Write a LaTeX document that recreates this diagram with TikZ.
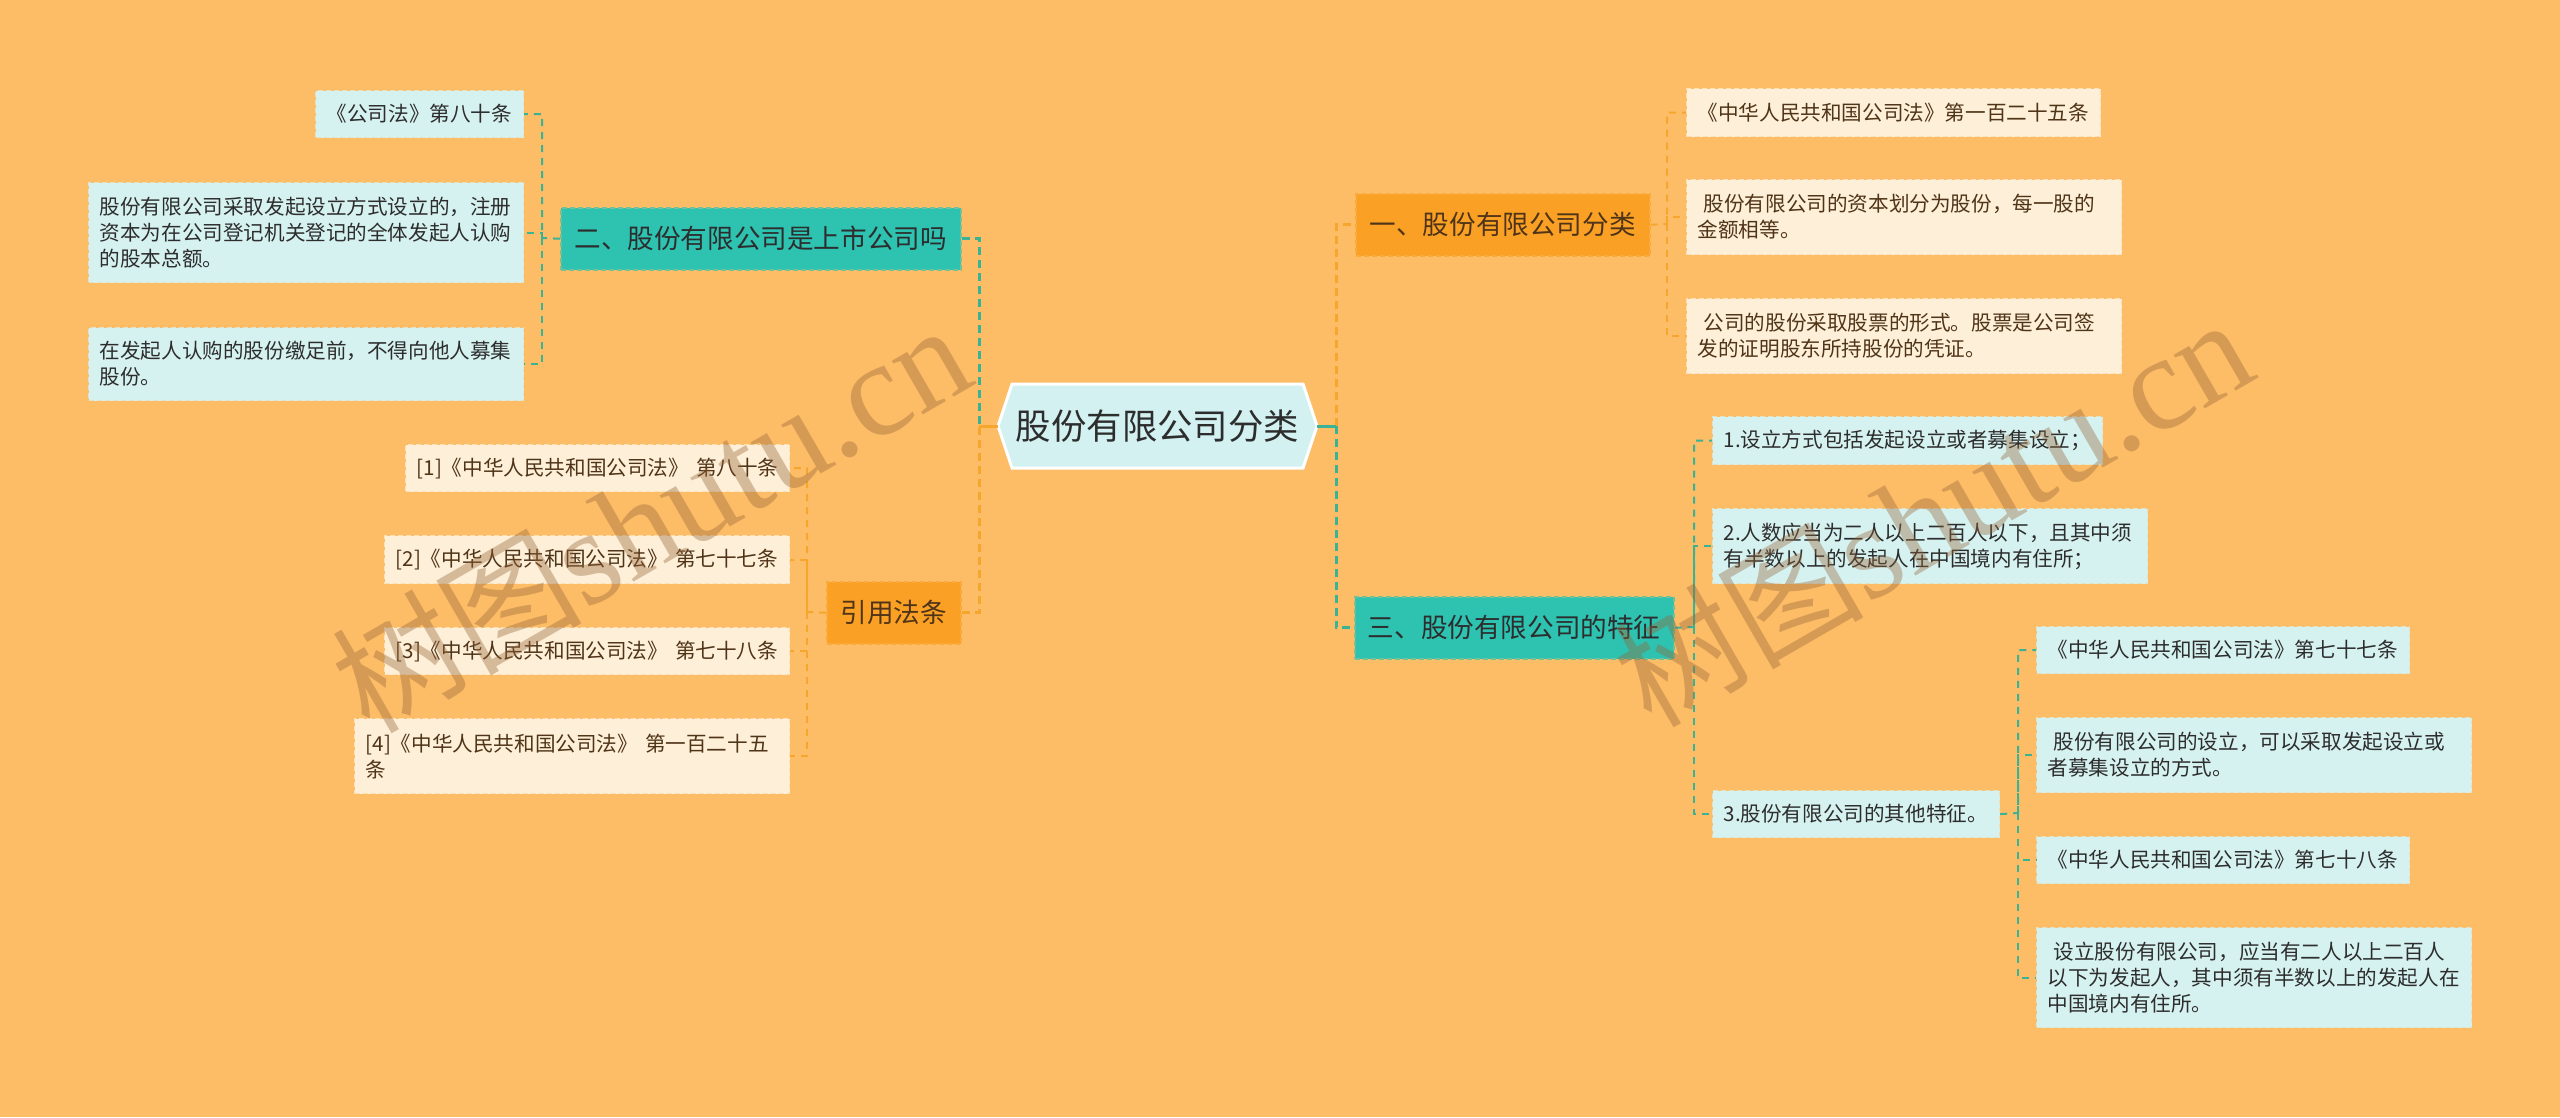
\documentclass[tikz,border=0pt]{standalone}
\usepackage{fontspec}
\newfontfamily\cjk{Noto Sans CJK SC}
\newfontfamily\wmserif{Liberation Serif}
\definecolor{bgc}{RGB}{253,188,102}
\definecolor{tealbox}{RGB}{46,194,177}
\definecolor{orgbox}{RGB}{250,161,37}
\definecolor{cyanleaf}{RGB}{214,242,240}
\definecolor{creamleaf}{RGB}{253,239,216}
\definecolor{hexfill}{RGB}{211,241,241}
\definecolor{tline}{RGB}{58,178,150}
\definecolor{oline}{RGB}{246,166,45}
\definecolor{txtdark}{RGB}{45,45,45}
\definecolor{txtbrown}{RGB}{80,52,24}
\definecolor{wmc}{RGB}{150,100,55}
\begin{document}
\begin{tikzpicture}[x=1pt,y=-1pt,
 leaf/.style={anchor=north west, inner xsep=11pt, inner ysep=0pt, align=left,
   font=\cjk\fontsize{20.6}{26}\selectfont, dashed, dash pattern=on 5pt off 3pt, line width=1.2pt},
 cyanl/.style={leaf, fill=cyanleaf, draw=cyanleaf!70!bgc, text=txtdark},
 creaml/.style={leaf, fill=creamleaf, draw=creamleaf!70!bgc, text=txtbrown},
 branch/.style={anchor=north west, inner xsep=0pt, inner ysep=0pt, minimum height=62pt,
   font=\cjk\fontsize{26.6}{32}\selectfont, dashed, dash pattern=on 5pt off 3pt, line width=1.5pt},
 tbranch/.style={branch, fill=tealbox, draw=tealbox!65!bgc, text=txtdark},
 obranch/.style={branch, fill=orgbox, draw=orgbox!65!bgc, text=txtbrown},
 conn/.style={dash pattern=on 7pt off 6pt, line width=2pt},
 tconn/.style={conn, draw=tline},
 oconn/.style={conn, draw=oline},
 mconn/.style={dash pattern=on 8pt off 5pt, line width=3pt},
 wm/.style={rotate=30, text=wmc, opacity=0.38}
]
\useasboundingbox (0,0) rectangle (2560,1117);
\fill[bgc] (0,0) rectangle (2560,1117);

% central hexagon
\filldraw[fill=hexfill, draw=white, line width=3pt]
  (998,426) -- (1012,384) -- (1303,384) -- (1317,426) -- (1303,468) -- (1012,468) -- cycle;
\node[minimum width=319pt, minimum height=85pt, inner sep=0pt, text=txtdark,
  font=\cjk\fontsize{35.4}{40}\selectfont] (center) at (1157.5,426) {股份有限公司分类};

% branches
\node[tbranch, minimum width=400pt] (b2) at (560,207) {二、股份有限公司是上市公司吗};
\node[obranch, minimum width=134pt] (b4) at (826,581) {引用法条};
\node[obranch, minimum width=294pt] (b1) at (1355,193) {一、股份有限公司分类};
\node[tbranch, minimum width=319pt] (b3) at (1354,596) {三、股份有限公司的特征};

% left-top leaves
\node[cyanl, text width=186pt, minimum height=47pt] (L1) at (315,90) {《公司法》第八十条};
\node[cyanl, text width=413pt, minimum height=100pt] (L2) at (88,182)
  {股份有限公司采取发起设立方式设立的，注册\\资本为在公司登记机关登记的全体发起人认购\\的股本总额。};
\node[cyanl, text width=413pt, minimum height=73pt] (L3) at (88,327)
  {在发起人认购的股份缴足前，不得向他人募集\\股份。};

% left-bottom leaves
\node[creaml, text width=362pt, minimum height=47pt] (R1) at (405,444) {[1]《中华人民共和国公司法》~第八十条};
\node[creaml, text width=383pt, minimum height=48pt] (R2) at (384,535) {[2]《中华人民共和国公司法》~第七十七条};
\node[creaml, text width=383pt, minimum height=47pt] (R3) at (384,627) {[3]《中华人民共和国公司法》~第七十八条};
\node[creaml, text width=413pt, minimum height=75pt] (R4) at (354,718) {[4]《中华人民共和国公司法》~第一百二十五\\条};

% right-top leaves
\node[creaml, text width=392pt, minimum height=48pt] (A1) at (1686,88) {《中华人民共和国公司法》第一百二十五条};
\node[creaml, text width=413pt, minimum height=75pt] (A2) at (1686,179)
  {\hspace*{6pt}股份有限公司的资本划分为股份，每一股的\\金额相等。};
\node[creaml, text width=413pt, minimum height=75pt] (A3) at (1686,298)
  {\hspace*{6pt}公司的股份采取股票的形式。股票是公司签\\发的证明股东所持股份的凭证。};

% right-bottom leaves
\node[cyanl, text width=368pt, minimum height=48pt] (S1) at (1712,416) {1.设立方式包括发起设立或者募集设立；};
\node[cyanl, text width=413pt, minimum height=75pt] (S2) at (1712,508)
  {2.人数应当为二人以上二百人以下，且其中须\\有半数以上的发起人在中国境内有住所；};
\node[cyanl, text width=265pt, minimum height=47pt] (S3) at (1712,790) {3.股份有限公司的其他特征。};

\node[cyanl, text width=351pt, minimum height=47pt] (G1) at (2036,626) {《中华人民共和国公司法》第七十七条};
\node[cyanl, text width=413pt, minimum height=75pt] (G2) at (2036,717)
  {\hspace*{6pt}股份有限公司的设立，可以采取发起设立或\\者募集设立的方式。};
\node[cyanl, text width=351pt, minimum height=47pt] (G3) at (2036,836) {《中华人民共和国公司法》第七十八条};
\node[cyanl, text width=413pt, minimum height=100pt] (G4) at (2036,927)
  {\hspace*{6pt}设立股份有限公司，应当有二人以上二百人\\以下为发起人，其中须有半数以上的发起人在\\中国境内有住所。};

% junctions
\coordinate (jML) at (979,426);
\coordinate (jMR) at (1336,426);
\coordinate (jA) at (542,238);
\coordinate (jB) at (807,612);
\coordinate (jC) at (1667,224);
\coordinate (jD) at (1694,627);
\coordinate (jE) at (2018,813);

% main connectors
\draw[mconn, draw=tline] (b2.east) -| (jML);
\draw[mconn, draw=oline] (b4.east) -| (jML);
\draw[line width=3pt, oline] (jML) -- (center.west);
\draw[mconn, draw=oline] (jMR) |- (b1.west);
\draw[mconn, draw=tline] (jMR) |- (b3.west);
\draw[line width=3pt, tline] (center.east) -- (jMR);

% group connectors
\draw[tconn] (b2.west) -- (jA) |- (L1.east);
\draw[tconn] (jA) |- (L2.east);
\draw[tconn] (jA) |- (L3.east);

\draw[oconn] (b4.west) -- (jB) |- (R1.east);
\draw[oconn] (jB) |- (R2.east);
\draw[oconn] (jB) |- (R3.east);
\draw[oconn] (jB) |- (R4.east);

\draw[oconn] (b1.east) -- (jC) |- (A1.west);
\draw[oconn] (jC) |- (A2.west);
\draw[oconn] (jC) |- (A3.west);

\draw[tconn] (b3.east) -- (jD) |- (S1.west);
\draw[tconn] (jD) |- (S2.west);
\draw[tconn] (jD) |- (S3.west);

\draw[tconn] (S3.east) -- (jE) |- (G1.west);
\draw[tconn] (jE) |- (G2.west);
\draw[tconn] (jE) |- (G3.west);
\draw[tconn] (jE) |- (G4.west);

% watermarks
\node[wm] (wm1) at (650,518) {{\cjk\fontsize{125}{130}\selectfont 树图}{\wmserif\fontsize{135}{140}\selectfont shutu.cn}};
\node[wm] (wm2) at (1932,512) {{\cjk\fontsize{125}{130}\selectfont 树图}{\wmserif\fontsize{135}{140}\selectfont shutu.cn}};
\end{tikzpicture}
\end{document}
